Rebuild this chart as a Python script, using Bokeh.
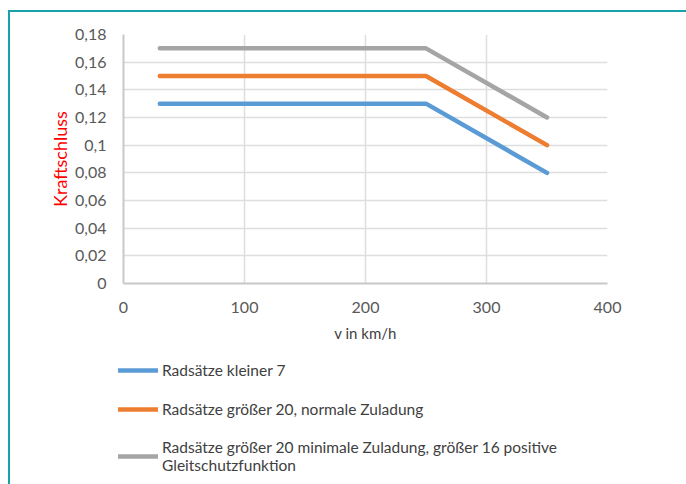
from bokeh.plotting import figure
from bokeh.models import (Legend, LegendItem, FixedTicker, CustomJSTickFormatter,
                          Range1d, InlineStyleSheet)
from bokeh.embed import file_html
from bokeh.resources import INLINE

speed = [30, 250, 350]
series_names = [
    "Radsätze kleiner 7",
    "Radsätze größer 20, normale Zuladung",
    "Radsätze größer 20 minimale Zuladung, größer 16 positive\nGleitschutzfunktion",
]
small = [0.13, 0.13, 0.08]
normal = [0.15, 0.15, 0.10]
minimal = [0.17, 0.17, 0.12]
colors = ["#5b9bd5", "#ed7d31", "#a5a5a5"]
x_ticks = [0, 100, 200, 300, 400]
y_ticks = [0, 0.02, 0.04, 0.06, 0.08, 0.10, 0.12, 0.14, 0.16, 0.18]

FONT = "Lato"
TEAL = "#17a2aa"

top_css = InlineStyleSheet(css=f"""
:host::after {{
  content: '';
  position: absolute;
  left: 8px; top: 10px; right: 0px; bottom: 0px;
  border-top: 2px solid {TEAL};
  border-left: 2px solid {TEAL};
  pointer-events: none;
}}
""")
bottom_css = InlineStyleSheet(css=f"""
:host::after {{
  content: '';
  position: absolute;
  left: 8px; top: 0px; right: 0px; bottom: 0px;
  border-left: 2px solid {TEAL};
  pointer-events: none;
}}
""")

p = figure(width=686, height=350, output_backend="svg", toolbar_location=None,
           x_range=Range1d(0, 400), y_range=Range1d(0, 0.18),
           min_border_left=123, min_border_right=79, min_border_top=34,
           min_border_bottom=67, stylesheets=[top_css])
p.outline_line_color = None
p.background_fill_color = "white"
p.border_fill_color = "white"

line_style = dict(line_width=4.5, line_cap="round", line_join="round")
series = [small, normal, minimal]
for vals, col in zip(series, colors):
    p.line(speed, vals, line_color=col, **line_style)

for ax in (p.xaxis[0], p.yaxis[0]):
    ax.axis_line_color = "#c8c8c8"
    ax.axis_line_width = 2
    ax.major_tick_line_color = None
    ax.minor_tick_line_color = None
    ax.major_label_text_font = FONT
    ax.major_label_text_font_size = "16px"
    ax.major_label_text_color = "#595959"
    ax.axis_label_text_font = FONT
    ax.axis_label_text_font_style = "normal"

p.xaxis.ticker = FixedTicker(ticks=x_ticks)
p.yaxis.ticker = FixedTicker(ticks=y_ticks)
p.yaxis.formatter = CustomJSTickFormatter(
    code="return tick == 0 ? '0' : (Math.round(tick*100)/100).toString().replace('.', ',');")
p.xaxis.major_label_standoff = 12
p.yaxis.major_label_standoff = 11
p.xaxis.axis_label = "v in km/h"
p.xaxis.axis_label_text_color = "#404040"
p.xaxis.axis_label_text_font_size = "15px"
p.xaxis.axis_label_standoff = 8
p.yaxis.axis_label = "Kraftschluss"
p.yaxis.axis_label_text_color = "#ff0000"
p.yaxis.axis_label_text_font_size = "18px"
p.yaxis.axis_label_standoff = 1

for g in (p.xgrid[0], p.ygrid[0]):
    g.grid_line_color = "#dedede"
    g.grid_line_width = 1.5

# legend panel below the chart (its own ranges keep its line copies out of view)
q = figure(width=686, height=134, output_backend="svg", toolbar_location=None,
           x_range=Range1d(1000, 1001), y_range=Range1d(0, 1),
           x_axis_location=None, y_axis_location=None,
           min_border_left=0, min_border_right=0, min_border_top=0,
           min_border_bottom=0, stylesheets=[bottom_css])
q.outline_line_color = None
q.xgrid.visible = False
q.ygrid.visible = False
q.background_fill_color = "white"
q.border_fill_color = "white"
legend_renderers = [q.line(speed, vals, line_color=col, **line_style)
                    for vals, col in zip(series, colors)]

legend = Legend(items=[LegendItem(label=n, renderers=[r]) for n, r in zip(series_names, legend_renderers)],
                location=(118, 10), orientation="vertical",
                glyph_width=40, glyph_height=20, label_height=20, label_standoff=4,
                spacing=19, padding=0, margin=0,
                border_line_color=None, background_fill_alpha=0,
                label_text_font=FONT, label_text_font_size="15.5px",
                label_text_color="#404040")
q.add_layout(legend, "center")

open("out.html", "w").write(file_html([p, q], INLINE))
